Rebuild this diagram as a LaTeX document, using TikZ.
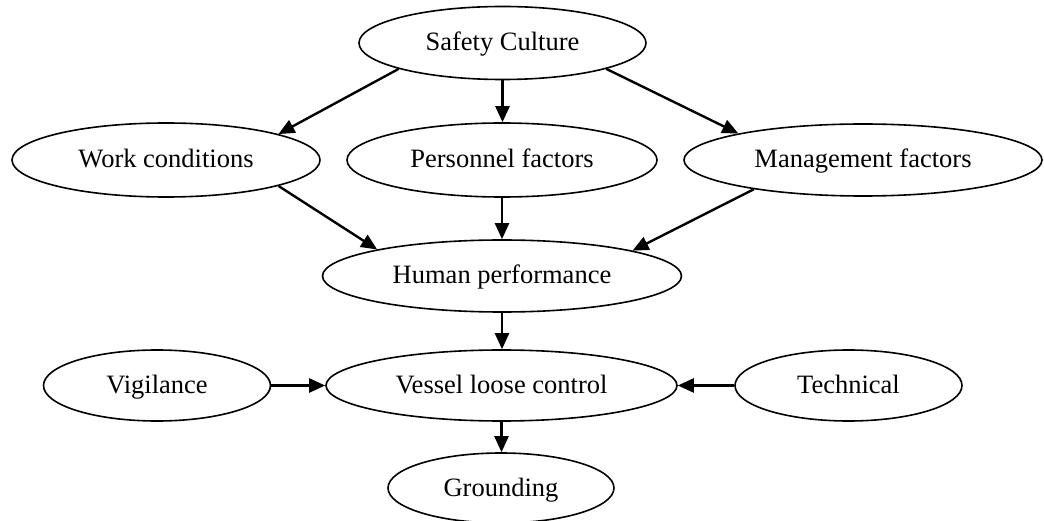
\documentclass[tikz,border=0pt]{standalone}
\usepackage{fontspec}
\setmainfont{Liberation Serif}
\usetikzlibrary{shapes.geometric,arrows.meta}
\begin{document}
\begin{tikzpicture}[x=1pt,y=-1pt,
  bub/.style={ellipse,draw,line width=1.6pt,inner sep=0pt,text height=22pt,text depth=6pt,font=\fontsize{26.5}{30}\selectfont},
  link/.style={line width=2.4pt,-{Triangle[length=16pt,width=14pt]}}]
\useasboundingbox (0,0) rectangle (1044,521);
\node[bub,minimum width=287pt,minimum height=73pt] (sc) at (502.5,43) {Safety Culture};
\node[bub,minimum width=308pt,minimum height=74pt] (wc) at (166,160) {Work conditions};
\node[bub,minimum width=310pt,minimum height=74pt] (pf) at (502,160) {Personnel factors};
\node[bub,minimum width=358pt,minimum height=72pt] (mf) at (863,160) {Management factors};
\node[bub,minimum width=359pt,minimum height=72pt] (hp) at (502,276) {Human performance};
\node[bub,minimum width=351pt,minimum height=71pt] (vlc) at (501.5,385.5) {Vessel loose control};
\node[bub,minimum width=227pt,minimum height=71pt] (vig) at (157,385.5) {Vigilance};
\node[bub,minimum width=227pt,minimum height=71pt] (tech) at (848.5,385.5) {Technical};
\node[bub,minimum width=226pt,minimum height=70pt] (gr) at (501,488) {Grounding};
\draw[link] (sc.194) -- (wc.13);
\draw[link] (sc.south) -- (sc.south |- pf.north);
\draw[link] (sc.346) -- (mf.168);
\draw[link] (wc.347) -- (hp.168.5);
\draw[link] (pf.south) -- (pf.south |- hp.north);
\draw[link] (mf.195) -- (hp.11.5);
\draw[link] (hp.south) -- (hp.south |- vlc.north);
\draw[link] (vig.east) -- (vlc.west);
\draw[link] (tech.west) -- (vlc.east);
\draw[link] (vlc.south) -- (vlc.south |- gr.north);
\end{tikzpicture}
\end{document}
